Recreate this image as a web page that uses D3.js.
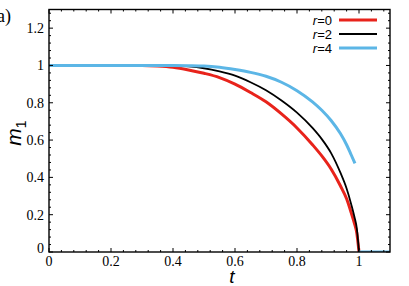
<!DOCTYPE html>
<html>
<head>
<meta charset="utf-8">
<script src="https://cdn.jsdelivr.net/npm/d3@7"></script>
<style>
  body { margin: 0; background: #fff; }
  svg { display: block; }
  .serif { font-family: "Liberation Serif", "DejaVu Serif", serif; }
  .sans { font-family: "Liberation Sans", "DejaVu Sans", sans-serif; }
</style>
</head>
<body>
<div id="chart"></div>
<script>
// values
const tValues = [0, 0.1, 0.2, 0.3, 0.35, 0.4, 0.45, 0.5, 0.55, 0.6, 0.65, 0.7, 0.75, 0.8, 0.85, 0.88, 0.91, 0.94, 0.96, 0.975, 0.985, 0.993, 1.0];
const mR0 = [1, 1, 1, 1, 0.997, 0.99, 0.976, 0.958, 0.935, 0.9, 0.855, 0.805, 0.74, 0.665, 0.575, 0.515, 0.445, 0.355, 0.285, 0.21, 0.155, 0.1, 0];
const mR2 = [1, 1, 1, 1, 1, 0.999, 0.995, 0.985, 0.968, 0.945, 0.91, 0.867, 0.812, 0.747, 0.665, 0.605, 0.53, 0.425, 0.34, 0.255, 0.19, 0.125, 0];
const tR4 = [0, 0.1, 0.2, 0.3, 0.35, 0.4, 0.45, 0.5, 0.55, 0.6, 0.65, 0.7, 0.75, 0.8, 0.85, 0.88, 0.91, 0.94, 0.96, 0.975, 0.987];
const mR4 = [1, 1, 1, 1, 1, 1, 0.999, 0.997, 0.99, 0.978, 0.963, 0.942, 0.91, 0.865, 0.805, 0.76, 0.705, 0.635, 0.575, 0.52, 0.475];
const tailT = [1.0, 1.1];
const tailM = [0, 0];

const series = [
  {label: "0", t: tValues, m: mR0, color: "#e8231b", width: 3},
  {label: "2", t: tValues, m: mR2, color: "#000000", width: 1.8},
  {label: "4", t: tR4, m: mR4, color: "#5cb6e6", width: 3}
];

const xTicks = [0, 0.2, 0.4, 0.6, 0.8, 1];
const yTicks = [0, 0.2, 0.4, 0.6, 0.8, 1, 1.2];
const xTickLabels = ["0", "0.2", "0.4", "0.6", "0.8", "1"];
const yTickLabels = ["0", "0.2", "0.4", "0.6", "0.8", "1", "1.2"];

const W = 409, H = 286;
const margin = {top: 9.5, right: 19, bottom: 34, left: 49};
const width = W - margin.left - margin.right;
const height = H - margin.top - margin.bottom;

const root = d3.select("#chart").append("svg")
  .attr("width", W)
  .attr("height", H);

const svg = root.append("g")
  .attr("transform", `translate(${margin.left},${margin.top})`);

const x = d3.scaleLinear().domain([0, 1.1]).range([0, width]);
const y = d3.scaleLinear().domain([0, 1.3]).range([height, 0]);

// curves
const line = d3.line()
  .x(d => x(d[0]))
  .y(d => y(d[1]))
  .curve(d3.curveMonotoneX);

svg.append("clipPath").attr("id", "clip")
  .append("rect").attr("width", width).attr("height", height);

const plot = svg.append("g").attr("clip-path", "url(#clip)");

series.forEach(s => {
  plot.append("path")
    .datum(s.t.map((t, i) => [t, s.m[i]]))
    .attr("fill", "none")
    .attr("stroke", s.color)
    .attr("stroke-width", s.width)
    .attr("d", line);
});

// tail at m=0 after t=1
plot.append("path")
  .datum(tailT.map((t, i) => [t, tailM[i]]))
  .attr("fill", "none")
  .attr("stroke", "#5cb6e6")
  .attr("stroke-width", 3)
  .attr("d", line);

// ticks (inward, all four sides)
const xMinor = d3.range(0, 1.1, 0.04).filter(v => xTicks.every(t => Math.abs(t - v) > 1e-6));
const yMinor = d3.range(0, 1.3, 0.04).filter(v => yTicks.every(t => Math.abs(t - v) > 1e-6));
const tickG = svg.append("g").attr("stroke", "#000").attr("stroke-width", 1);

const addX = (vals, len) => vals.forEach(v => {
  tickG.append("line").attr("x1", x(v)).attr("x2", x(v)).attr("y1", height).attr("y2", height - len);
  tickG.append("line").attr("x1", x(v)).attr("x2", x(v)).attr("y1", 0).attr("y2", len);
});
const addY = (vals, len) => vals.forEach(v => {
  tickG.append("line").attr("y1", y(v)).attr("y2", y(v)).attr("x1", 0).attr("x2", len);
  tickG.append("line").attr("y1", y(v)).attr("y2", y(v)).attr("x1", width).attr("x2", width - len);
});
addX(xTicks, 4);
addX(xMinor, 2);
addY(yTicks, 4);
addY(yMinor, 2);

// frame
svg.append("rect")
  .attr("width", width)
  .attr("height", height)
  .attr("fill", "none")
  .attr("stroke", "#000")
  .attr("stroke-width", 1.4);

// tick labels
svg.append("g").selectAll("text")
  .data(xTicks)
  .enter().append("text")
  .attr("class", "serif")
  .attr("x", d => x(d))
  .attr("y", height + 14)
  .attr("text-anchor", "middle")
  .style("font-size", "14px")
  .text((d, i) => xTickLabels[i]);

svg.append("g").selectAll("text")
  .data(yTicks)
  .enter().append("text")
  .attr("class", "serif")
  .attr("x", -5)
  .attr("y", d => y(d))
  .attr("dy", d => d === 0 ? "0.1em" : "0.35em")
  .attr("text-anchor", "end")
  .style("font-size", "14px")
  .text((d, i) => yTickLabels[i]);

// axis titles
root.append("text")
  .attr("class", "sans")
  .attr("x", 232)
  .attr("y", 283)
  .attr("text-anchor", "middle")
  .style("font-style", "italic")
  .style("font-size", "19px")
  .text("t");

const yTitle = root.append("text")
  .attr("class", "sans")
  .attr("transform", "translate(21,133) rotate(-90)")
  .attr("text-anchor", "middle")
  .style("font-size", "21px");
yTitle.append("tspan").style("font-style", "italic").text("m");
yTitle.append("tspan").attr("dy", 5).style("font-size", "14px").text("1");

// panel label, cut at the left edge
root.append("text")
  .attr("class", "serif")
  .attr("x", -3)
  .attr("y", 22)
  .style("font-size", "18px")
  .text("a)");

// legend
const legend = root.append("g");
series.forEach((s, i) => {
  const ly = 20 + i * 14;
  const t = legend.append("text")
    .attr("class", "sans")
    .attr("x", 332)
    .attr("y", ly)
    .attr("dy", "0.35em")
    .attr("text-anchor", "end")
    .style("font-size", "13px");
  t.append("tspan").style("font-style", "italic").text("r");
  t.append("tspan").text("=" + s.label);
  legend.append("line")
    .attr("x1", 339).attr("x2", 377)
    .attr("y1", ly).attr("y2", ly)
    .attr("stroke", s.color)
    .attr("stroke-width", s.width);
});
</script>
</body>
</html>
